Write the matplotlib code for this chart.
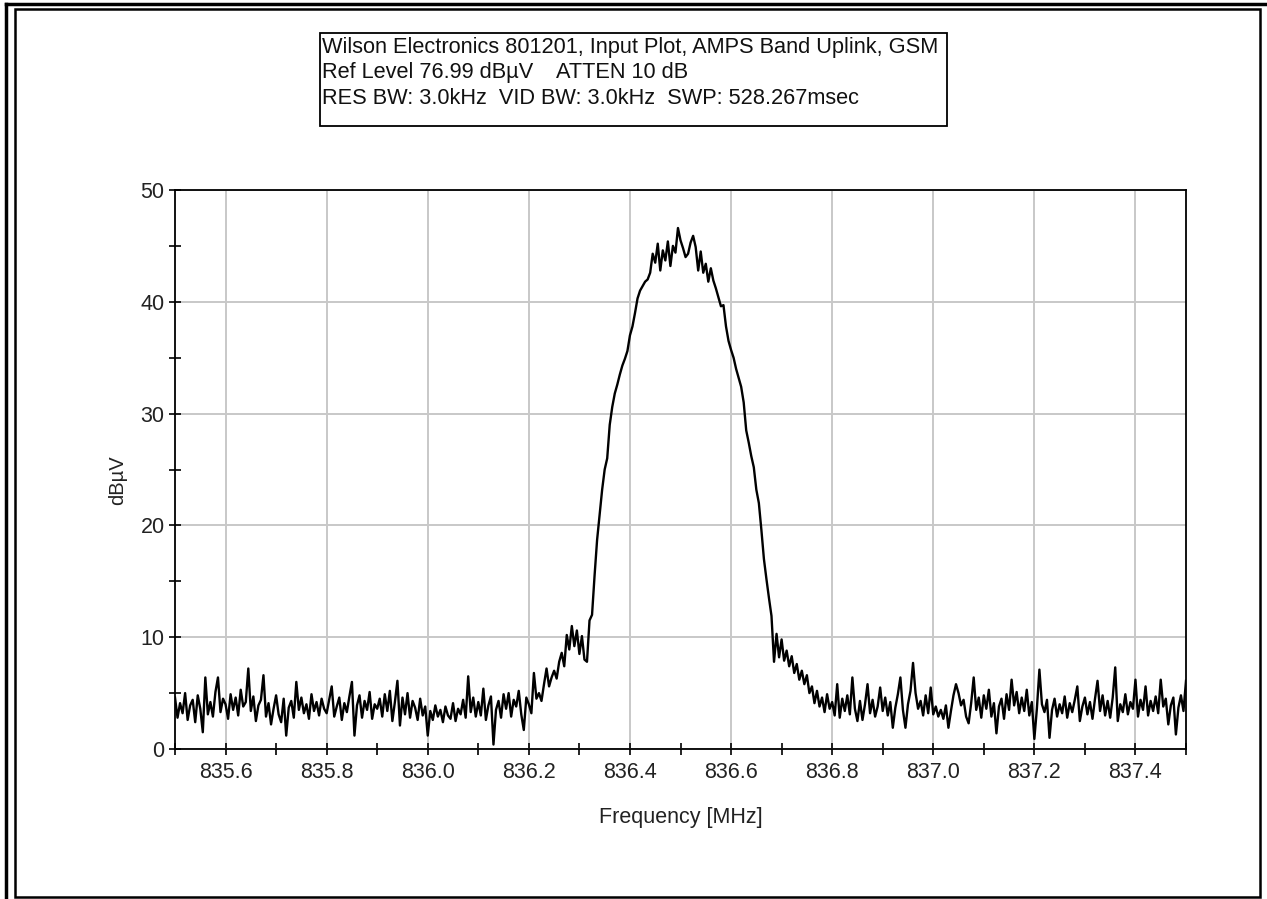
import numpy as np
import matplotlib.pyplot as plt
from matplotlib.lines import Line2D
from matplotlib.patches import Rectangle

plt.rcParams['font.family'] = ['Liberation Sans', 'DejaVu Sans']

# sweep settings
f_start = 835.5
f_stop = 837.5

# measured level (dBuV), one value every 5 kHz from 835.500 to 837.500 MHz
level = [
    # 835.50
    4.6, 2.8, 4.1, 3.2, 5.0, 2.6, 3.9, 4.4, 2.4, 4.8, 3.6, 1.5, 6.4, 3.1, 4.2, 2.9, 5.1, 6.4, 3.3, 4.5,
    # 835.60
    4.0, 2.7, 4.9, 3.5, 4.6, 3.0, 5.3, 3.8, 4.2, 7.2, 3.4, 4.7, 2.5, 3.9, 4.4, 6.6, 2.9, 4.1, 2.2, 3.6,
    # 835.70
    4.8, 3.1, 2.4, 4.5, 1.2, 3.7, 4.3, 2.8, 6.0, 3.5, 4.6, 3.2, 4.0, 2.7, 4.9, 3.4, 4.2, 3.0, 4.5, 3.6,
    # 835.80
    3.2, 4.4, 5.6, 2.9, 3.8, 4.6, 2.6, 4.1, 3.3, 4.7, 6.0, 1.2, 3.9, 4.8, 2.8, 4.3, 3.5, 5.1, 2.7, 4.0,
    # 835.90
    3.6, 4.5, 2.9, 4.9, 3.4, 5.2, 2.5, 4.2, 6.1, 2.1, 4.6, 3.1, 5.0, 2.8, 4.3, 3.7, 2.6, 4.5, 3.0, 3.8,
    # 836.00
    1.2, 3.4, 2.6, 3.9, 2.9, 3.5, 2.4, 3.8, 3.0, 2.7, 4.1, 2.5, 3.6, 3.1, 4.4, 2.8, 6.5, 3.3, 4.6, 2.9,
    # 836.10
    4.2, 3.0, 5.4, 2.6, 3.9, 4.7, 0.4, 3.5, 4.3, 2.8, 4.9, 3.6, 5.0, 2.9, 4.4, 3.8, 5.2, 3.1, 1.7, 4.6,
    # 836.20
    4.0, 3.2, 6.8, 4.5, 5.0, 4.3, 5.8, 7.2, 5.6, 6.4, 7.0, 6.3, 7.8, 8.6, 7.4, 10.2, 8.9, 11.0, 9.2, 10.6,
    # 836.30
    8.5, 10.1, 8.0, 7.8, 11.5, 12.0, 15.5, 18.7, 21.0, 23.2, 25.0, 26.0, 29.0, 30.6, 31.8, 32.6, 33.5, 34.3, 34.9, 35.6,
    # 836.40
    37.0, 37.8, 39.0, 40.3, 41.0, 41.4, 41.8, 42.0, 42.6, 44.3, 43.5, 45.2, 42.8, 44.6, 43.7, 45.4, 43.2, 45.0, 44.4, 46.6,
    # 836.50
    45.5, 44.8, 44.0, 44.3, 45.3, 45.9, 44.9, 42.8, 44.5, 42.6, 43.4, 41.8, 43.0, 41.9, 41.2, 40.4, 39.6, 39.7, 37.8, 36.5,
    # 836.60
    35.7, 35.0, 34.0, 33.2, 32.4, 31.0, 28.5, 27.4, 26.2, 25.2, 23.2, 22.0, 19.6, 17.0, 15.2, 13.5, 11.9, 7.8, 10.3, 8.2,
    # 836.70
    9.8, 7.9, 8.8, 7.4, 8.3, 6.8, 7.6, 6.2, 7.0, 5.8, 6.6, 5.0, 5.6, 4.1, 5.2, 3.8, 4.6, 3.3, 4.9, 3.6,
    # 836.80
    4.2, 3.0, 5.8, 2.8, 4.5, 3.4, 4.8, 3.1, 6.4, 3.6, 2.5, 4.3, 2.6, 4.0, 5.8, 3.2, 4.4, 2.9, 3.8, 5.5,
    # 836.90
    3.4, 4.6, 3.0, 4.2, 1.9, 3.7, 4.9, 6.4, 3.5, 1.9, 4.0, 5.2, 7.7, 5.0, 3.6, 4.3, 3.0, 4.8, 3.2, 5.5,
    # 837.00
    3.1, 3.8, 2.9, 3.5, 2.7, 3.9, 1.9, 3.4, 4.8, 5.8, 5.0, 3.9, 4.4, 2.9, 2.3, 4.1, 6.4, 3.5, 4.6, 2.8,
    # 837.10
    4.8, 3.6, 5.3, 2.9, 4.1, 1.4, 3.8, 4.5, 2.7, 4.9, 3.5, 6.2, 3.9, 5.1, 3.2, 4.6, 3.4, 5.3, 3.0, 4.2,
    # 837.20
    0.9, 3.6, 7.1, 4.0, 3.3, 4.4, 1.0, 3.5, 4.5, 2.9, 4.0, 3.2, 4.7, 2.8, 4.1, 3.3, 4.4, 5.6, 2.5, 3.8,
    # 837.30
    4.6, 3.1, 4.2, 2.7, 4.5, 6.1, 3.4, 4.8, 3.0, 4.3, 2.8, 4.6, 7.3, 2.5, 4.0, 3.3, 4.9, 3.1, 4.2, 3.6,
    # 837.40
    6.2, 2.9, 4.4, 3.5, 5.6, 3.0, 4.3, 3.4, 4.7, 3.2, 6.2, 3.8, 4.5, 2.2, 3.9, 4.6, 1.3, 3.7, 4.8, 3.4,
    6.1,
]

x_major = [835.6, 835.8, 836.0, 836.2, 836.4, 836.6, 836.8, 837.0, 837.2, 837.4]
y_major = [0, 10, 20, 30, 40, 50]

header = ["Wilson Electronics 801201, Input Plot, AMPS Band Uplink, GSM",
          "Ref Level 76.99 dB\u00b5V    ATTEN 10 dB",
          "RES BW: 3.0kHz  VID BW: 3.0kHz  SWP: 528.267msec"]

freq = np.linspace(f_start, f_stop, len(level))

W, H = 1267, 899
fig = plt.figure(figsize=(W/100, H/100), dpi=100)
ax = fig.add_axes([175/W, 1-749/H, (1186-175)/W, (749-190)/H])

ax.plot(freq, level, color="black", lw=1.7)

ax.set_xlim(f_start, f_stop)
ax.set_ylim(0, 50)
ax.set_xticks(x_major)
ax.set_xticklabels(["%.1f" % v for v in x_major])
ax.set_xticks(np.arange(835.5, 837.51, 0.1), minor=True)
ax.set_yticks(y_major)
ax.set_yticks([5, 15, 25, 35, 45], minor=True)

ax.grid(True, which="major", color="#c8c8c8", lw=1.4)
ax.set_axisbelow(True)
ax.tick_params(which="both", direction="inout", length=9, width=1.2, colors="black",
               labelsize=15.5, labelcolor="#222222")
ax.tick_params(axis="x", pad=5)
ax.tick_params(axis="y", pad=3)
for s in ax.spines.values():
    s.set_linewidth(1.3)

ax.set_xlabel("Frequency [MHz]", fontsize=15.5, labelpad=17, color="#222222")
ax.set_ylabel("dB\u00b5V", fontsize=14.5, color="#222222")
ax.yaxis.set_label_coords(-0.047, 0.48)

# header box
fig.add_artist(Rectangle((320/W, 1-126/H), (947-320)/W, (126-33)/H, transform=fig.transFigure,
                         fill=False, edgecolor="black", lw=1.3))
for k, line in enumerate(header):
    fig.text(322/W, 1-(47+25.5*k)/H, line, fontsize=15.7, va="center", ha="left", color="#111111")

# page frame
fig.add_artist(Line2D([6/W, 6/W], [0, 1-4/H], transform=fig.transFigure, color="black", lw=2.5))
fig.add_artist(Line2D([6/W, 1], [1-4/H, 1-4/H], transform=fig.transFigure, color="black", lw=2.5))
fig.add_artist(Rectangle((15/W, 1-897/H), (1260-15)/W, (897-9)/H, transform=fig.transFigure,
                         fill=False, edgecolor="black", lw=1.8))

fig.savefig("out.png", dpi=100)
